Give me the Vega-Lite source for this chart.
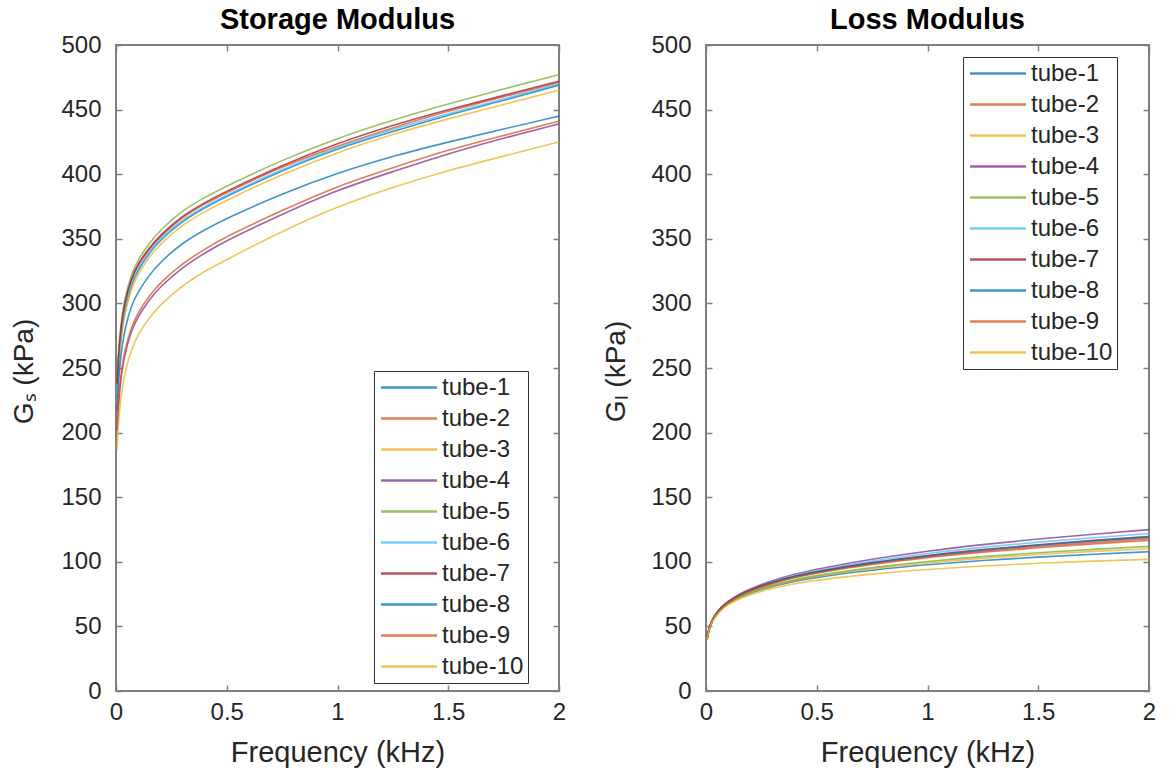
{
  "$schema": "https://vega.github.io/schema/vega-lite/v6.json",
  "background": "white",
  "padding": {"left": 9, "top": 5, "right": 5, "bottom": 5},
  "bounds": "flush",
  "spacing": 147,
  "config": {
    "font": "Liberation Sans",
    "view": {"stroke": "#7f7f7f", "strokeWidth": 2},
    "axis": {
      "grid": false,
      "domain": false,
      "tickColor": "#7f7f7f",
      "tickSize": -6,
      "tickWidth": 1.5,
      "labelFont": "Liberation Sans",
      "labelFontSize": 24,
      "labelColor": "#262626",
      "labelFlush": false,
      "titleFont": "Liberation Sans",
      "titleFontSize": 28,
      "titleFontWeight": "normal",
      "titleColor": "#262626"
    },
    "axisX": {"labelPadding": 15, "labelBaseline": "top", "titleY": 61, "titleBaseline": "middle", "titleFontSize": 29, "format": "~g"},
    "axisY": {"labelPadding": 21, "titleY": 326, "titleBaseline": "middle", "titleAngle": -90},
    "title": {"font": "Liberation Sans", "fontSize": 29, "fontWeight": "bold", "color": "black", "frame": "group", "offset": -2},
    "legend": {
      "orient": "none",
      "title": null,
      "symbolType": "M-0.86,0H4.23",
      "symbolSize": 484,
      "symbolStrokeWidth": 2.5,
      "labelFont": "Liberation Sans",
      "labelFontSize": 24,
      "labelColor": "#262626",
      "labelOffset": 39,
      "strokeColor": "#333333",
      "fillColor": "white",
      "padding": 4,
      "rowPadding": 6
    }
  },
  "datasets": {
    "moduli": [
      {"tube": "tube-1", "f": 0.005, "gs": 226, "gl": 39.9},
      {"tube": "tube-1", "f": 0.01, "gs": 247, "gl": 45.2},
      {"tube": "tube-1", "f": 0.02, "gs": 272, "gl": 51.1},
      {"tube": "tube-1", "f": 0.04, "gs": 296, "gl": 57.7},
      {"tube": "tube-1", "f": 0.07, "gs": 315, "gl": 63.5},
      {"tube": "tube-1", "f": 0.1, "gs": 326, "gl": 67.5},
      {"tube": "tube-1", "f": 0.15, "gs": 339, "gl": 72.3},
      {"tube": "tube-1", "f": 0.2, "gs": 349, "gl": 75.8},
      {"tube": "tube-1", "f": 0.3, "gs": 364, "gl": 81.1},
      {"tube": "tube-1", "f": 0.4, "gs": 374, "gl": 85.0},
      {"tube": "tube-1", "f": 0.5, "gs": 383, "gl": 88.1},
      {"tube": "tube-1", "f": 0.75, "gs": 403, "gl": 93.7},
      {"tube": "tube-1", "f": 1.0, "gs": 420, "gl": 97.8},
      {"tube": "tube-1", "f": 1.25, "gs": 433, "gl": 101.1},
      {"tube": "tube-1", "f": 1.5, "gs": 446, "gl": 103.7},
      {"tube": "tube-1", "f": 1.75, "gs": 457, "gl": 105.9},
      {"tube": "tube-1", "f": 2.0, "gs": 469, "gl": 107.8},

      {"tube": "tube-2", "f": 0.005, "gs": 237, "gl": 40.0},
      {"tube": "tube-2", "f": 0.01, "gs": 256, "gl": 45.4},
      {"tube": "tube-2", "f": 0.02, "gs": 278, "gl": 51.4},
      {"tube": "tube-2", "f": 0.04, "gs": 301, "gl": 58.3},
      {"tube": "tube-2", "f": 0.07, "gs": 319, "gl": 64.4},
      {"tube": "tube-2", "f": 0.1, "gs": 330, "gl": 68.7},
      {"tube": "tube-2", "f": 0.15, "gs": 342, "gl": 73.9},
      {"tube": "tube-2", "f": 0.2, "gs": 352, "gl": 77.8},
      {"tube": "tube-2", "f": 0.3, "gs": 367, "gl": 83.7},
      {"tube": "tube-2", "f": 0.4, "gs": 377, "gl": 88.2},
      {"tube": "tube-2", "f": 0.5, "gs": 386, "gl": 91.8},
      {"tube": "tube-2", "f": 0.75, "gs": 406, "gl": 98.7},
      {"tube": "tube-2", "f": 1.0, "gs": 422, "gl": 104.0},
      {"tube": "tube-2", "f": 1.25, "gs": 436, "gl": 108.3},
      {"tube": "tube-2", "f": 1.5, "gs": 449, "gl": 111.9},
      {"tube": "tube-2", "f": 1.75, "gs": 460, "gl": 115.0},
      {"tube": "tube-2", "f": 2.0, "gs": 471, "gl": 117.8},

      {"tube": "tube-3", "f": 0.005, "gs": 223, "gl": 39.9},
      {"tube": "tube-3", "f": 0.01, "gs": 244, "gl": 45.2},
      {"tube": "tube-3", "f": 0.02, "gs": 269, "gl": 51.1},
      {"tube": "tube-3", "f": 0.04, "gs": 293, "gl": 57.8},
      {"tube": "tube-3", "f": 0.07, "gs": 312, "gl": 63.7},
      {"tube": "tube-3", "f": 0.1, "gs": 323, "gl": 67.8},
      {"tube": "tube-3", "f": 0.15, "gs": 336, "gl": 72.7},
      {"tube": "tube-3", "f": 0.2, "gs": 346, "gl": 76.3},
      {"tube": "tube-3", "f": 0.3, "gs": 361, "gl": 81.7},
      {"tube": "tube-3", "f": 0.4, "gs": 371, "gl": 85.7},
      {"tube": "tube-3", "f": 0.5, "gs": 380, "gl": 88.9},
      {"tube": "tube-3", "f": 0.75, "gs": 400, "gl": 94.9},
      {"tube": "tube-3", "f": 1.0, "gs": 417, "gl": 99.3},
      {"tube": "tube-3", "f": 1.25, "gs": 431, "gl": 102.8},
      {"tube": "tube-3", "f": 1.5, "gs": 443, "gl": 105.7},
      {"tube": "tube-3", "f": 1.75, "gs": 454, "gl": 108.1},
      {"tube": "tube-3", "f": 2.0, "gs": 465, "gl": 110.1},

      {"tube": "tube-4", "f": 0.005, "gs": 201, "gl": 40.1},
      {"tube": "tube-4", "f": 0.01, "gs": 219, "gl": 45.6},
      {"tube": "tube-4", "f": 0.02, "gs": 240, "gl": 51.6},
      {"tube": "tube-4", "f": 0.04, "gs": 262, "gl": 58.7},
      {"tube": "tube-4", "f": 0.07, "gs": 279, "gl": 65.0},
      {"tube": "tube-4", "f": 0.1, "gs": 290, "gl": 69.5},
      {"tube": "tube-4", "f": 0.15, "gs": 303, "gl": 75.0},
      {"tube": "tube-4", "f": 0.2, "gs": 313, "gl": 79.2},
      {"tube": "tube-4", "f": 0.3, "gs": 328, "gl": 85.6},
      {"tube": "tube-4", "f": 0.4, "gs": 339, "gl": 90.5},
      {"tube": "tube-4", "f": 0.5, "gs": 349, "gl": 94.4},
      {"tube": "tube-4", "f": 0.75, "gs": 369, "gl": 102.3},
      {"tube": "tube-4", "f": 1.0, "gs": 388, "gl": 108.4},
      {"tube": "tube-4", "f": 1.25, "gs": 402, "gl": 113.4},
      {"tube": "tube-4", "f": 1.5, "gs": 416, "gl": 117.7},
      {"tube": "tube-4", "f": 1.75, "gs": 428, "gl": 121.4},
      {"tube": "tube-4", "f": 2.0, "gs": 439, "gl": 124.9},

      {"tube": "tube-5", "f": 0.005, "gs": 240, "gl": 39.9},
      {"tube": "tube-5", "f": 0.01, "gs": 259, "gl": 45.3},
      {"tube": "tube-5", "f": 0.02, "gs": 282, "gl": 51.2},
      {"tube": "tube-5", "f": 0.04, "gs": 305, "gl": 58.0},
      {"tube": "tube-5", "f": 0.07, "gs": 323, "gl": 63.9},
      {"tube": "tube-5", "f": 0.1, "gs": 334, "gl": 68.0},
      {"tube": "tube-5", "f": 0.15, "gs": 346.5, "gl": 73.0},
      {"tube": "tube-5", "f": 0.2, "gs": 357, "gl": 76.6},
      {"tube": "tube-5", "f": 0.3, "gs": 372, "gl": 82.2},
      {"tube": "tube-5", "f": 0.4, "gs": 382, "gl": 86.3},
      {"tube": "tube-5", "f": 0.5, "gs": 391, "gl": 89.6},
      {"tube": "tube-5", "f": 0.75, "gs": 411, "gl": 95.7},
      {"tube": "tube-5", "f": 1.0, "gs": 428, "gl": 100.4},
      {"tube": "tube-5", "f": 1.25, "gs": 442, "gl": 104.1},
      {"tube": "tube-5", "f": 1.5, "gs": 454.5, "gl": 107.1},
      {"tube": "tube-5", "f": 1.75, "gs": 466, "gl": 109.7},
      {"tube": "tube-5", "f": 2.0, "gs": 477, "gl": 111.9},

      {"tube": "tube-6", "f": 0.005, "gs": 230, "gl": 40.1},
      {"tube": "tube-6", "f": 0.01, "gs": 251, "gl": 45.5},
      {"tube": "tube-6", "f": 0.02, "gs": 275, "gl": 51.5},
      {"tube": "tube-6", "f": 0.04, "gs": 298, "gl": 58.5},
      {"tube": "tube-6", "f": 0.07, "gs": 317, "gl": 64.8},
      {"tube": "tube-6", "f": 0.1, "gs": 328, "gl": 69.2},
      {"tube": "tube-6", "f": 0.15, "gs": 340, "gl": 74.6},
      {"tube": "tube-6", "f": 0.2, "gs": 351, "gl": 78.6},
      {"tube": "tube-6", "f": 0.3, "gs": 365, "gl": 84.8},
      {"tube": "tube-6", "f": 0.4, "gs": 375, "gl": 89.5},
      {"tube": "tube-6", "f": 0.5, "gs": 384, "gl": 93.3},
      {"tube": "tube-6", "f": 0.75, "gs": 404, "gl": 100.8},
      {"tube": "tube-6", "f": 1.0, "gs": 421, "gl": 106.6},
      {"tube": "tube-6", "f": 1.25, "gs": 435, "gl": 111.3},
      {"tube": "tube-6", "f": 1.5, "gs": 447, "gl": 115.3},
      {"tube": "tube-6", "f": 1.75, "gs": 458, "gl": 118.7},
      {"tube": "tube-6", "f": 2.0, "gs": 470, "gl": 121.9},

      {"tube": "tube-7", "f": 0.005, "gs": 238, "gl": 41.5},
      {"tube": "tube-7", "f": 0.01, "gs": 256, "gl": 46.8},
      {"tube": "tube-7", "f": 0.02, "gs": 279, "gl": 52.6},
      {"tube": "tube-7", "f": 0.04, "gs": 302, "gl": 59.2},
      {"tube": "tube-7", "f": 0.07, "gs": 320, "gl": 65.2},
      {"tube": "tube-7", "f": 0.1, "gs": 331, "gl": 69.4},
      {"tube": "tube-7", "f": 0.15, "gs": 343, "gl": 74.6},
      {"tube": "tube-7", "f": 0.2, "gs": 353, "gl": 78.5},
      {"tube": "tube-7", "f": 0.3, "gs": 368, "gl": 84.4},
      {"tube": "tube-7", "f": 0.4, "gs": 378, "gl": 88.9},
      {"tube": "tube-7", "f": 0.5, "gs": 387, "gl": 92.5},
      {"tube": "tube-7", "f": 0.75, "gs": 407, "gl": 99.6},
      {"tube": "tube-7", "f": 1.0, "gs": 424, "gl": 105.1},
      {"tube": "tube-7", "f": 1.25, "gs": 438, "gl": 109.6},
      {"tube": "tube-7", "f": 1.5, "gs": 450, "gl": 113.3},
      {"tube": "tube-7", "f": 1.75, "gs": 461, "gl": 116.6},
      {"tube": "tube-7", "f": 2.0, "gs": 472, "gl": 119.6},

      {"tube": "tube-8", "f": 0.005, "gs": 217, "gl": 40.0},
      {"tube": "tube-8", "f": 0.01, "gs": 236, "gl": 45.4},
      {"tube": "tube-8", "f": 0.02, "gs": 258, "gl": 51.4},
      {"tube": "tube-8", "f": 0.04, "gs": 281, "gl": 58.4},
      {"tube": "tube-8", "f": 0.07, "gs": 299, "gl": 64.5},
      {"tube": "tube-8", "f": 0.1, "gs": 309, "gl": 68.8},
      {"tube": "tube-8", "f": 0.15, "gs": 322, "gl": 74.1},
      {"tube": "tube-8", "f": 0.2, "gs": 332, "gl": 78.0},
      {"tube": "tube-8", "f": 0.3, "gs": 347, "gl": 84.0},
      {"tube": "tube-8", "f": 0.4, "gs": 357, "gl": 88.6},
      {"tube": "tube-8", "f": 0.5, "gs": 366, "gl": 92.2},
      {"tube": "tube-8", "f": 0.75, "gs": 385, "gl": 99.3},
      {"tube": "tube-8", "f": 1.0, "gs": 401, "gl": 104.7},
      {"tube": "tube-8", "f": 1.25, "gs": 414, "gl": 109.1},
      {"tube": "tube-8", "f": 1.5, "gs": 425, "gl": 112.9},
      {"tube": "tube-8", "f": 1.75, "gs": 435, "gl": 116.1},
      {"tube": "tube-8", "f": 2.0, "gs": 445, "gl": 119.0},

      {"tube": "tube-9", "f": 0.005, "gs": 204, "gl": 40.0},
      {"tube": "tube-9", "f": 0.01, "gs": 222, "gl": 45.4},
      {"tube": "tube-9", "f": 0.02, "gs": 243, "gl": 51.4},
      {"tube": "tube-9", "f": 0.04, "gs": 265, "gl": 58.2},
      {"tube": "tube-9", "f": 0.07, "gs": 282, "gl": 64.3},
      {"tube": "tube-9", "f": 0.1, "gs": 293, "gl": 68.6},
      {"tube": "tube-9", "f": 0.15, "gs": 306, "gl": 73.7},
      {"tube": "tube-9", "f": 0.2, "gs": 316, "gl": 77.6},
      {"tube": "tube-9", "f": 0.3, "gs": 331, "gl": 83.4},
      {"tube": "tube-9", "f": 0.4, "gs": 342, "gl": 87.8},
      {"tube": "tube-9", "f": 0.5, "gs": 352, "gl": 91.4},
      {"tube": "tube-9", "f": 0.75, "gs": 372, "gl": 98.1},
      {"tube": "tube-9", "f": 1.0, "gs": 391, "gl": 103.3},
      {"tube": "tube-9", "f": 1.25, "gs": 405, "gl": 107.5},
      {"tube": "tube-9", "f": 1.5, "gs": 419, "gl": 110.9},
      {"tube": "tube-9", "f": 1.75, "gs": 430, "gl": 113.9},
      {"tube": "tube-9", "f": 2.0, "gs": 441, "gl": 116.6},

      {"tube": "tube-10", "f": 0.005, "gs": 187, "gl": 39.8},
      {"tube": "tube-10", "f": 0.01, "gs": 205, "gl": 45.0},
      {"tube": "tube-10", "f": 0.02, "gs": 226, "gl": 50.9},
      {"tube": "tube-10", "f": 0.04, "gs": 247, "gl": 57.4},
      {"tube": "tube-10", "f": 0.07, "gs": 265, "gl": 63.0},
      {"tube": "tube-10", "f": 0.1, "gs": 276, "gl": 66.9},
      {"tube": "tube-10", "f": 0.15, "gs": 289, "gl": 71.4},
      {"tube": "tube-10", "f": 0.2, "gs": 299, "gl": 74.7},
      {"tube": "tube-10", "f": 0.3, "gs": 314, "gl": 79.5},
      {"tube": "tube-10", "f": 0.4, "gs": 325, "gl": 83.1},
      {"tube": "tube-10", "f": 0.5, "gs": 334, "gl": 85.9},
      {"tube": "tube-10", "f": 0.75, "gs": 356, "gl": 90.7},
      {"tube": "tube-10", "f": 1.0, "gs": 375, "gl": 94.2},
      {"tube": "tube-10", "f": 1.25, "gs": 390, "gl": 96.9},
      {"tube": "tube-10", "f": 1.5, "gs": 403, "gl": 98.9},
      {"tube": "tube-10", "f": 1.75, "gs": 414, "gl": 100.6},
      {"tube": "tube-10", "f": 2.0, "gs": 425, "gl": 101.9}
    ]
  },
  "resolve": {"scale": {"color": "independent"}, "legend": {"color": "independent"}},
  "hconcat": [
    {
      "width": 443,
      "height": 646,
      "title": {"text": "Storage Modulus"},
      "data": {"name": "moduli"},
      "layer": [
        {
          "mark": {"type": "line", "strokeWidth": 1.6, "opacity": 0.75, "interpolate": "basis", "clip": true},
          "encoding": {
            "x": {"field": "f", "type": "quantitative", "scale": {"domain": [0, 2], "nice": false},
                  "axis": {"values": [0, 0.5, 1, 1.5, 2], "title": "Frequency (kHz)"}},
            "y": {"field": "gs", "type": "quantitative", "scale": {"domain": [0, 500], "nice": false},
                  "axis": {"values": [0, 50, 100, 150, 200, 250, 300, 350, 400, 450, 500], "title": "Gₛ (kPa)", "titleX": -92}},
            "color": {"field": "tube", "type": "nominal",
                      "scale": {"domain": ["tube-1", "tube-2", "tube-3", "tube-4", "tube-5", "tube-6", "tube-7", "tube-8", "tube-9", "tube-10"],
                                "range": ["#0072BD", "#D95319", "#EDB120", "#7E2F8E", "#77AC30", "#4DBEEE", "#A2142F", "#0072BD", "#D95319", "#EDB120"]},
                      "legend": {"legendX": 258, "legendY": 326}}
          }
        },
        {
          "mark": {"type": "point", "opacity": 0},
          "encoding": {
            "x": {"field": "f", "type": "quantitative", "scale": {"domain": [0, 2], "nice": false},
                  "axis": {"orient": "top", "values": [0, 0.5, 1, 1.5, 2], "labels": false, "title": null}},
            "y": {"field": "gs", "type": "quantitative", "scale": {"domain": [0, 500], "nice": false},
                  "axis": {"orient": "right", "values": [0, 50, 100, 150, 200, 250, 300, 350, 400, 450, 500], "labels": false, "title": null}}
          }
        }
      ],
      "resolve": {"axis": {"x": "independent", "y": "independent"}}
    },
    {
      "width": 443,
      "height": 646,
      "title": {"text": "Loss Modulus"},
      "data": {"name": "moduli"},
      "layer": [
        {
          "mark": {"type": "line", "strokeWidth": 1.6, "opacity": 0.75, "interpolate": "basis", "clip": true},
          "encoding": {
            "x": {"field": "f", "type": "quantitative", "scale": {"domain": [0, 2], "nice": false},
                  "axis": {"values": [0, 0.5, 1, 1.5, 2], "title": "Frequency (kHz)"}},
            "y": {"field": "gl", "type": "quantitative", "scale": {"domain": [0, 500], "nice": false},
                  "axis": {"values": [0, 50, 100, 150, 200, 250, 300, 350, 400, 450, 500], "title": "Gₗ (kPa)", "titleX": -90}},
            "color": {"field": "tube", "type": "nominal",
                      "scale": {"domain": ["tube-1", "tube-2", "tube-3", "tube-4", "tube-5", "tube-6", "tube-7", "tube-8", "tube-9", "tube-10"],
                                "range": ["#0072BD", "#D95319", "#EDB120", "#7E2F8E", "#77AC30", "#4DBEEE", "#A2142F", "#0072BD", "#D95319", "#EDB120"]},
                      "legend": {"legendX": 257, "legendY": 12}}
          }
        },
        {
          "mark": {"type": "point", "opacity": 0},
          "encoding": {
            "x": {"field": "f", "type": "quantitative", "scale": {"domain": [0, 2], "nice": false},
                  "axis": {"orient": "top", "values": [0, 0.5, 1, 1.5, 2], "labels": false, "title": null}},
            "y": {"field": "gl", "type": "quantitative", "scale": {"domain": [0, 500], "nice": false},
                  "axis": {"orient": "right", "values": [0, 50, 100, 150, 200, 250, 300, 350, 400, 450, 500], "labels": false, "title": null}}
          }
        }
      ],
      "resolve": {"axis": {"x": "independent", "y": "independent"}}
    }
  ]
}
